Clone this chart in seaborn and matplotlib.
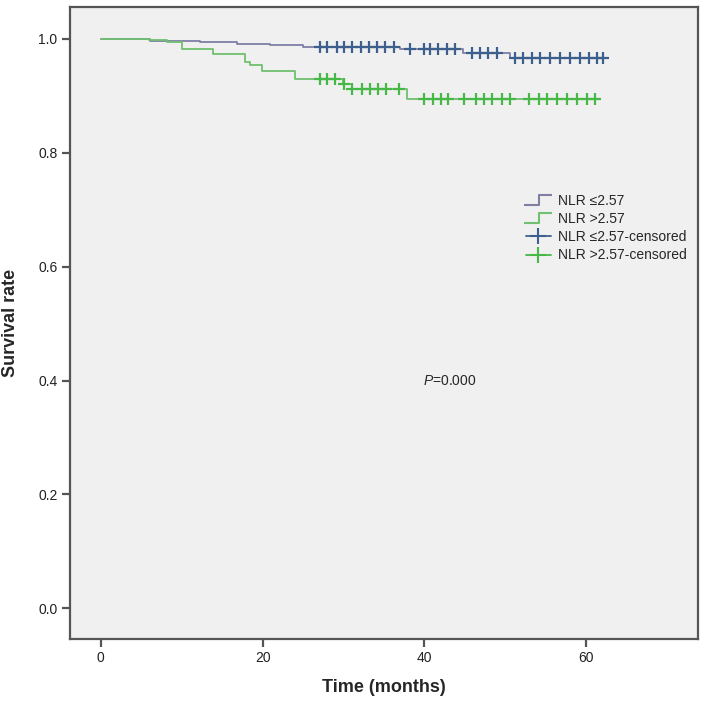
import numpy as np
import pandas as pd
import matplotlib
matplotlib.use("Agg")
import matplotlib.pyplot as plt
import seaborn as sns
from matplotlib.lines import Line2D
from matplotlib.path import Path

sns.set_style("white")
plt.rcParams['font.family'] = ['Liberation Sans', 'DejaVu Sans']
plt.rcParams['mathtext.fontset'] = 'custom'
plt.rcParams['mathtext.it'] = 'Liberation Sans:italic'
plt.rcParams['mathtext.rm'] = 'Liberation Sans'

# ---- data ----
low_times = [0, 6.1, 12.3, 16.8, 20.9, 25.0, 37.0, 44.7, 50.6, 62.0]
low_surv = [1.0, 0.997, 0.994, 0.991, 0.989, 0.986, 0.982, 0.975, 0.966, 0.966]

high_times = [0, 6.0, 8.2, 10.0, 13.9, 17.8, 18.4, 19.9, 24.0, 29.9, 31.1, 37.8, 61.3]
high_surv = [1.0, 0.998, 0.995, 0.982, 0.974, 0.960, 0.954, 0.943, 0.930, 0.920, 0.912, 0.894, 0.894]

low_cens = [27.1, 28.0, 29.2, 30.0, 31.0, 32.1, 33.1, 34.1, 35.1, 36.2, 38.2, 39.9,
            40.7, 41.7, 42.8, 43.8, 45.9, 46.9, 47.9, 49.0, 51.2, 52.2, 53.3, 54.3,
            55.5, 56.8, 58.0, 59.2, 60.3, 61.3, 62.0]
high_cens = [27.1, 28.0, 29.0, 30.0, 31.1, 32.3, 33.3, 34.3, 35.3, 36.8, 39.9, 41.1,
             42.1, 42.9, 44.9, 46.4, 47.4, 48.4, 49.6, 50.6, 52.9, 54.1, 55.1, 56.4,
             57.6, 58.8, 60.1, 61.1]

labels = ['NLR \u22642.57', 'NLR >2.57', 'NLR \u22642.57-censored', 'NLR >2.57-censored']
line_colors = ['#7f7fa6', '#70c070']
cens_colors = ['#3d5f8e', '#45b845']


def surv_at(times, surv, t):
    idx = np.searchsorted(times, t, side='right') - 1
    return np.array(surv)[idx]


curves = pd.concat([
    pd.DataFrame({'time': low_times, 'surv': low_surv, 'group': labels[0]}),
    pd.DataFrame({'time': high_times, 'surv': high_surv, 'group': labels[1]}),
])
cens = pd.concat([
    pd.DataFrame({'time': low_cens, 'surv': surv_at(low_times, low_surv, low_cens), 'group': labels[2]}),
    pd.DataFrame({'time': high_cens, 'surv': surv_at(high_times, high_surv, high_cens), 'group': labels[3]}),
])

fig = plt.figure(figsize=(7.09, 7.02), dpi=100)
ax = fig.add_axes([70 / 709, 1 - 639 / 702, 628 / 709, 632 / 702])
ax.set_facecolor('#f0f0f0')

sns.lineplot(data=curves, x='time', y='surv', hue='group', palette=line_colors,
             drawstyle='steps-post', estimator=None, sort=False, linewidth=1.3,
             legend=False, ax=ax)
for g, c in zip(labels[2:], cens_colors):
    d = cens[cens['group'] == g]
    ax.plot(d['time'], d['surv'], linestyle='none', marker='+', markersize=8,
            markeredgewidth=1.6, color=c)

ax.set_xlim(-3.8, 73.8)
ax.set_ylim(-0.054, 1.056)
ax.set_xticks([0, 20, 40, 60])
ax.set_yticks([0.0, 0.2, 0.4, 0.6, 0.8, 1.0])
ax.set_yticklabels(['0.0', '0.2', '0.4', '0.6', '0.8', '1.0'])
for s in ax.spines.values():
    s.set_color('#555555')
    s.set_linewidth(1.6)
ax.tick_params(bottom=True, left=True, direction='out', length=6, width=1.6, color='#555555',
               labelsize=10, labelcolor='#222222', pad=3)

lab_font = dict(family=['Liberation Sans Narrow', 'Liberation Sans'], weight='bold', size=13)
ax.set_xlabel('Time (months)', labelpad=10, **lab_font)
ax.set_ylabel('Survival rate', labelpad=14, **lab_font)

ax.text(39.8, 0.399, r'$\mathit{P}$=0.000', fontsize=10, va='center', ha='left')

step = Path([(-1, -0.35), (0.1, -0.35), (0.1, 0.35), (1, 0.35)],
            [Path.MOVETO, Path.LINETO, Path.LINETO, Path.LINETO])
handles = [
    Line2D([], [], linestyle='none', marker=step, markersize=20, markerfacecolor='none',
           markeredgecolor=line_colors[0], markeredgewidth=1.5),
    Line2D([], [], linestyle='none', marker=step, markersize=20, markerfacecolor='none',
           markeredgecolor=line_colors[1], markeredgewidth=1.5),
    Line2D([], [], color=cens_colors[0], marker='+', markersize=11, linewidth=1.3, markeredgewidth=1.5),
    Line2D([], [], color=cens_colors[1], marker='+', markersize=11, linewidth=1.3, markeredgewidth=1.5),
]
ax.legend(handles, labels, loc='upper left', bbox_to_anchor=(0.717, 0.713),
          frameon=False, fontsize=10, handlelength=1.8, handletextpad=0.5,
          labelspacing=0.3, borderaxespad=0)

fig.savefig('out.png', dpi=100, facecolor='white')
